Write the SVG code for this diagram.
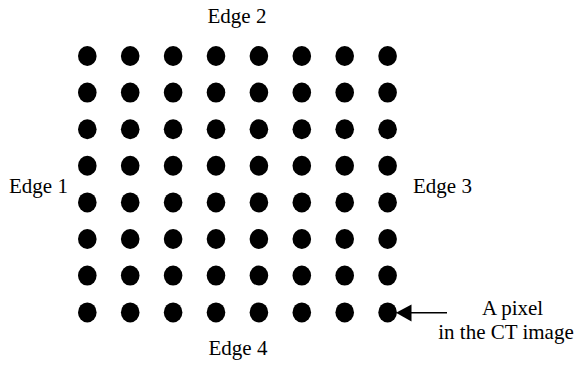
<svg xmlns="http://www.w3.org/2000/svg" width="580" height="365" viewBox="0 0 580 365">
<style>
.lbl{font-family:'Liberation Serif','Times New Roman','DejaVu Serif',serif;font-size:21px;fill:#000}
.dot{fill:#000}
</style>
<defs>
<g id="row">
<ellipse class="dot" cx="87.3" cy="0" rx="9.3" ry="10"/>
<ellipse class="dot" cx="130.2" cy="0" rx="9.3" ry="10"/>
<ellipse class="dot" cx="173.1" cy="0" rx="9.3" ry="10"/>
<ellipse class="dot" cx="216" cy="0" rx="9.3" ry="10"/>
<ellipse class="dot" cx="258.9" cy="0" rx="9.3" ry="10"/>
<ellipse class="dot" cx="301.8" cy="0" rx="9.3" ry="10"/>
<ellipse class="dot" cx="344.7" cy="0" rx="9.3" ry="10"/>
<ellipse class="dot" cx="387.6" cy="0" rx="9.3" ry="10"/>
</g>
</defs>
<rect width="580" height="365" fill="#fff"/>
<g id="grid">
<use href="#row" y="56"/>
<use href="#row" y="92.6"/>
<use href="#row" y="129.2"/>
<use href="#row" y="165.8"/>
<use href="#row" y="202.4"/>
<use href="#row" y="239"/>
<use href="#row" y="275.6"/>
<use href="#row" y="312.4"/>
</g>
<g id="connectors">
<line x1="447" y1="312.8" x2="411" y2="312.8" stroke="#000" stroke-width="1.5"/>
<path d="M396,312.8 L411.5,304.5 L411.5,321.5 Z" fill="#000"/>
</g>
<g id="edge1"><text class="lbl" x="9" y="193">Edge 1</text></g>
<g id="edge2"><text class="lbl" x="237" y="23" text-anchor="middle">Edge 2</text></g>
<g id="edge3"><text class="lbl" x="413" y="193">Edge 3</text></g>
<g id="edge4"><text class="lbl" x="238" y="355" text-anchor="middle">Edge 4</text></g>
<g id="pixel-label">
<text class="lbl" x="512.5" y="315" text-anchor="middle">A pixel</text>
<text class="lbl" x="506" y="338.5" text-anchor="middle">in the CT image</text>
</g>
</svg>
